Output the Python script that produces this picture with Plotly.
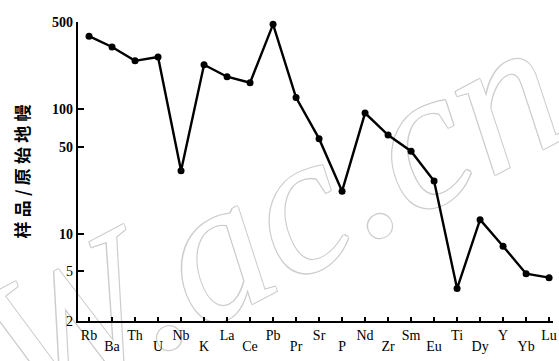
import plotly.graph_objects as go
import numpy as np

# Primitive-mantle normalised trace element pattern
elements = ["Rb", "Ba", "Th", "U", "Nb", "K", "La", "Ce", "Pb", "Pr", "Sr",
            "P", "Nd", "Zr", "Sm", "Eu", "Ti", "Dy", "Y", "Yb", "Lu"]
normalized = [385, 315, 244, 262, 32, 227, 182, 163, 479, 124, 58,
              22, 93, 62, 46, 26.5, 3.64, 13.0, 7.96, 4.79, 4.45]

y_ticks = [2, 5, 10, 50, 100, 500]
y_tick_text = ["2", "5", "<b>10</b>", "<b>50</b>", "<b>100</b>", "<b>500</b>"]

watermark = "W.ac.cn"

x_idx = list(range(len(elements)))
# staggered element labels: upper row on the main axis, lower row on an overlay
lower_vals = x_idx[1::2]
lower_text = elements[1::2]

serif = "Liberation Serif, Times New Roman, serif"
x_range = [-0.48, 20.17]

fig = go.Figure()
# invisible carriers for the overlay axes
fig.add_trace(go.Scatter(x=[None], y=[None], xaxis="x2", yaxis="y",
                         showlegend=False, hoverinfo="skip"))
fig.add_trace(go.Scatter(x=[None], y=[None], xaxis="x3", yaxis="y",
                         showlegend=False, hoverinfo="skip"))
fig.add_trace(go.Scatter(
    x=x_idx, y=normalized, mode="lines+markers",
    line=dict(color="black", width=2.4),
    marker=dict(color="black", size=7),
    showlegend=False, cliponaxis=False,
))

outline = ("1px 1px 0 #cdcdcd, -1px -1px 0 #cdcdcd, "
           "1px -1px 0 #cdcdcd, -1px 1px 0 #cdcdcd")

fig.update_layout(
    width=559, height=361,
    margin=dict(l=78, r=6, t=22, b=40),
    paper_bgcolor="white", plot_bgcolor="rgba(0,0,0,0)",
    xaxis=dict(
        range=x_range, tickmode="array", tickvals=x_idx,
        ticktext=[e if i % 2 == 0 else "" for i, e in enumerate(elements)],
        ticks="inside", ticklen=4, tickwidth=2, automargin=False,
        tickcolor="black", showline=True, linecolor="black", linewidth=2.2,
        showgrid=False, zeroline=False, ticklabelstandoff=0,
        tickfont=dict(family=serif, size=14, color="black"),
    ),
    xaxis3=dict(
        overlaying="x", matches="x", anchor="y", side="bottom",
        tickmode="array", tickvals=lower_vals, ticktext=lower_text,
        ticks="", showline=False, showgrid=False, zeroline=False,
        ticklabelstandoff=15, automargin=False,
        tickfont=dict(family=serif, size=14, color="black"),
    ),
    # watermark carried as a rotated label beneath the data
    xaxis2=dict(
        overlaying="x", anchor="free", position=1.0, side="bottom",
        range=[0, 1], tickmode="array", tickvals=[0.99],
        ticktext=["<i>" + watermark + "</i>"], tickangle=-28,
        ticklabelshift=-18, ticklabelstandoff=-80, ticklabeloverflow="allow",
        ticks="", showline=False, showgrid=False, zeroline=False,
        layer="below traces", automargin=False,
        tickfont=dict(family=serif, size=200, color="white", shadow=outline),
    ),
    yaxis=dict(
        type="log", range=[np.log10(2), np.log10(500)],
        tickmode="array", tickvals=y_ticks, ticktext=y_tick_text,
        ticks="inside", ticklen=6, tickwidth=2, tickcolor="black",
        showline=True, linecolor="black", linewidth=2.2,
        showgrid=False, zeroline=False, automargin=False,
        tickfont=dict(family=serif, size=14, color="black"),
        title=dict(text="<b>" + "\u2005".join("样品/原始地幔") + "</b>",
                   standoff=18,
                   font=dict(family="Noto Sans CJK SC", size=17, color="black")),
    ),
)

fig.write_html("out.html")
